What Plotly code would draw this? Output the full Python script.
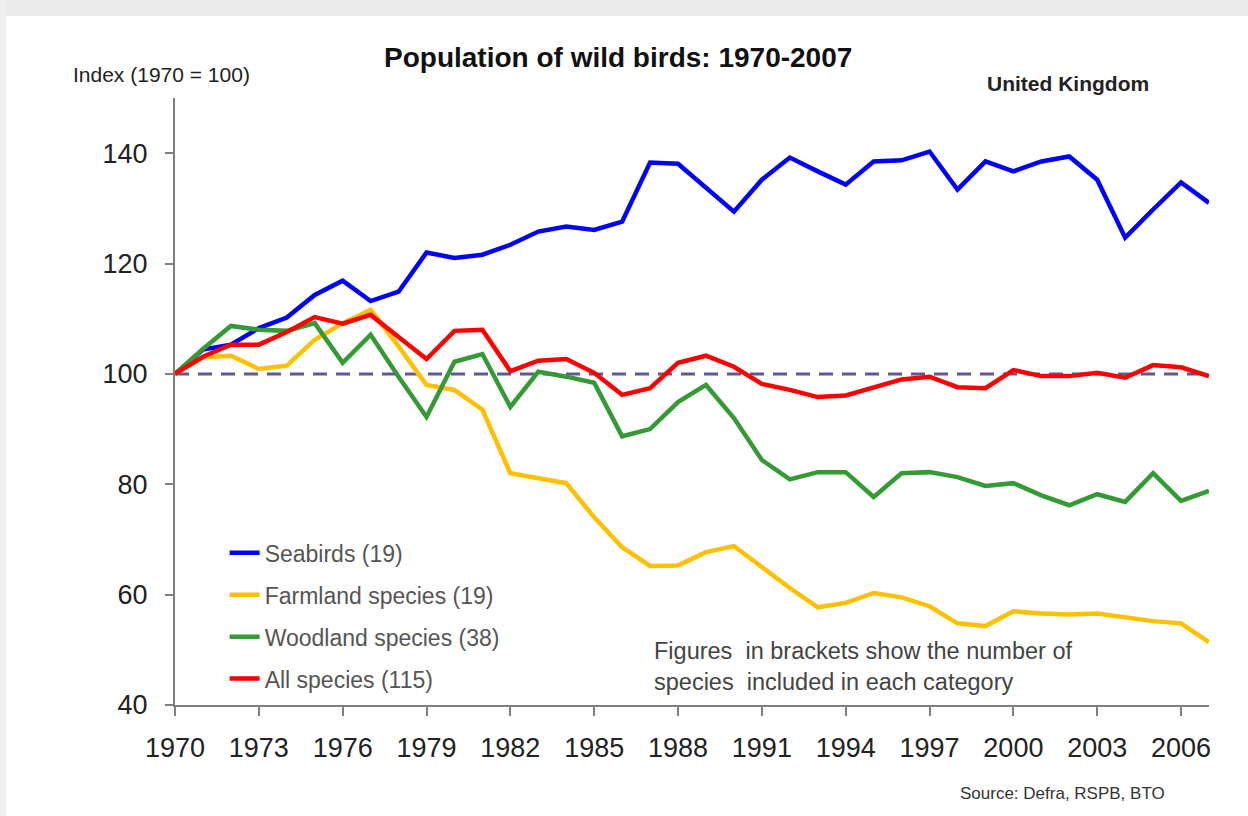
import plotly.graph_objects as go

years = list(range(1970, 2008))
tick_years = list(range(1970, 2007, 3))
base_index = 100

seabirds = [100, 104.4, 105.3, 108.3, 110.2, 114.3, 116.9, 113.2, 114.9, 122.0,
            121.0, 121.6, 123.4, 125.8, 126.7, 126.1, 127.6, 138.3, 138.1, 133.7,
            129.4, 135.2, 139.2, 136.7, 134.3, 138.5, 138.7, 140.3, 133.4, 138.5,
            136.7, 138.5, 139.4, 135.2, 124.7, 129.8, 134.7, 131.0]
farmland = [100, 103.0, 103.3, 100.9, 101.5, 106.2, 109.2, 111.6, 105.0, 98.0,
            97.1, 93.5, 82.0, 81.1, 80.2, 74.0, 68.6, 65.2, 65.3, 67.7,
            68.8, 65.0, 61.2, 57.7, 58.5, 60.3, 59.5, 57.9, 54.8, 54.3,
            57.0, 56.6, 56.4, 56.6, 55.9, 55.2, 54.8, 51.4]
woodland = [100, 104.5, 108.7, 108.0, 107.8, 109.2, 102.0, 107.1, 99.5, 92.2,
            102.2, 103.6, 94.0, 100.4, 99.5, 98.4, 88.7, 90.0, 94.9, 98.0,
            92.0, 84.4, 80.9, 82.2, 82.2, 77.7, 82.0, 82.2, 81.3, 79.7,
            80.2, 78.0, 76.2, 78.2, 76.8, 82.0, 77.0, 78.8]
all_species = [100, 103.1, 105.3, 105.3, 107.6, 110.3, 109.1, 110.7, 106.7, 102.7,
               107.8, 108.0, 100.5, 102.4, 102.7, 100.2, 96.2, 97.4, 102.0, 103.3,
               101.3, 98.2, 97.1, 95.8, 96.1, 97.6, 99.0, 99.5, 97.6, 97.4,
               100.7, 99.6, 99.6, 100.2, 99.3, 101.6, 101.2, 99.6]

series_names = ["Seabirds (19)", "Farmland species (19)", "Woodland species (38)", "All species (115)"]
series_values = [seabirds, farmland, woodland, all_species]
series_colors = ["#0000ff", "#ffc000", "#349a34", "#ff0000"]

FONT = "Arial, Liberation Sans, Helvetica, sans-serif"

fig = go.Figure()

# baseline (1970 = 100)
fig.add_trace(go.Scatter(
    x=[years[0], years[-1]], y=[base_index, base_index], mode="lines",
    line=dict(color="#5e5896", width=3, dash="14px,9px"),
    showlegend=False, hoverinfo="skip"))

for i, (name, vals, col) in enumerate(zip(series_names, series_values, series_colors)):
    fig.add_trace(go.Scatter(
        x=years, y=vals, mode="lines", name=name,
        line=dict(color=col, width=4.5), legendgroup=f"g{i}"))

fig.update_layout(
    width=1248, height=816,
    margin=dict(l=175, r=39, t=98, b=111),
    paper_bgcolor="white", plot_bgcolor="white",
    font=dict(family=FONT, color="#222"),
    showlegend=True,
    legend=dict(x=0.048, y=0.286, xanchor="left", yanchor="top",
                bgcolor="rgba(0,0,0,0)", traceorder="grouped",
                tracegroupgap=9, font=dict(size=23, color="#555", family=FONT)),
    xaxis=dict(range=[1970, 2007], tickmode="array", tickvals=tick_years,
               ticktext=[str(y) for y in tick_years],
               showgrid=False, zeroline=False, showline=True,
               linecolor="#7f7f7f", linewidth=2,
               ticks="outside", ticklen=9, tickwidth=2, tickcolor="#7f7f7f",
               tickfont=dict(size=27, color="#222", family=FONT),
               ticklabelstandoff=9),
    yaxis=dict(range=[40, 150], tickvals=[40, 60, 80, 100, 120, 140],
               showgrid=False, zeroline=False, showline=True,
               linecolor="#7f7f7f", linewidth=2,
               ticks="outside", ticklen=8, tickwidth=2, tickcolor="#7f7f7f",
               tickfont=dict(size=27, color="#222", family=FONT),
               ticklabelstandoff=12),
)

# screenshot frame: grey strip at top and left edge
fig.add_shape(type="rect", xref="paper", yref="paper",
              x0=-0.2, x1=1.1, y0=1.135, y1=1.2, fillcolor="#ececec",
              line=dict(width=0), layer="below")
fig.add_shape(type="rect", xref="paper", yref="paper",
              x0=-0.2, x1=-0.1635, y0=-0.2, y1=1.2, fillcolor="#f0f0f0",
              line=dict(width=0), layer="below")

annotations = [
    dict(text="<b>Population of wild birds: 1970-2007</b>", x=0.4284, y=1.0659,
         xanchor="center", yanchor="middle", font=dict(size=28, color="#111")),
    dict(text="Index (1970 = 100)", x=-0.1006, y=1.0395, xanchor="left",
         yanchor="middle", font=dict(size=21, color="#222")),
    dict(text="<b>United Kingdom</b>", x=0.7834, y=1.0231, xanchor="left",
         yanchor="middle", font=dict(size=21, color="#222")),
    dict(text="Figures  in brackets show the number of<br>species  included in each category",
         x=0.4613, y=0.0634, xanchor="left", yanchor="middle", align="left",
         font=dict(size=23.5, color="#444")),
    dict(text="Source: Defra, RSPB, BTO", x=0.7573, y=-0.145, xanchor="left",
         yanchor="middle", font=dict(size=17, color="#333")),
]
for a in annotations:
    a.update(xref="paper", yref="paper", showarrow=False)
    a["font"]["family"] = FONT
    fig.add_annotation(**a)

fig.write_html("out.html", config={"displayModeBar": False},
               post_script="document.body.style.margin='0px';document.body.style.overflow='hidden';")
